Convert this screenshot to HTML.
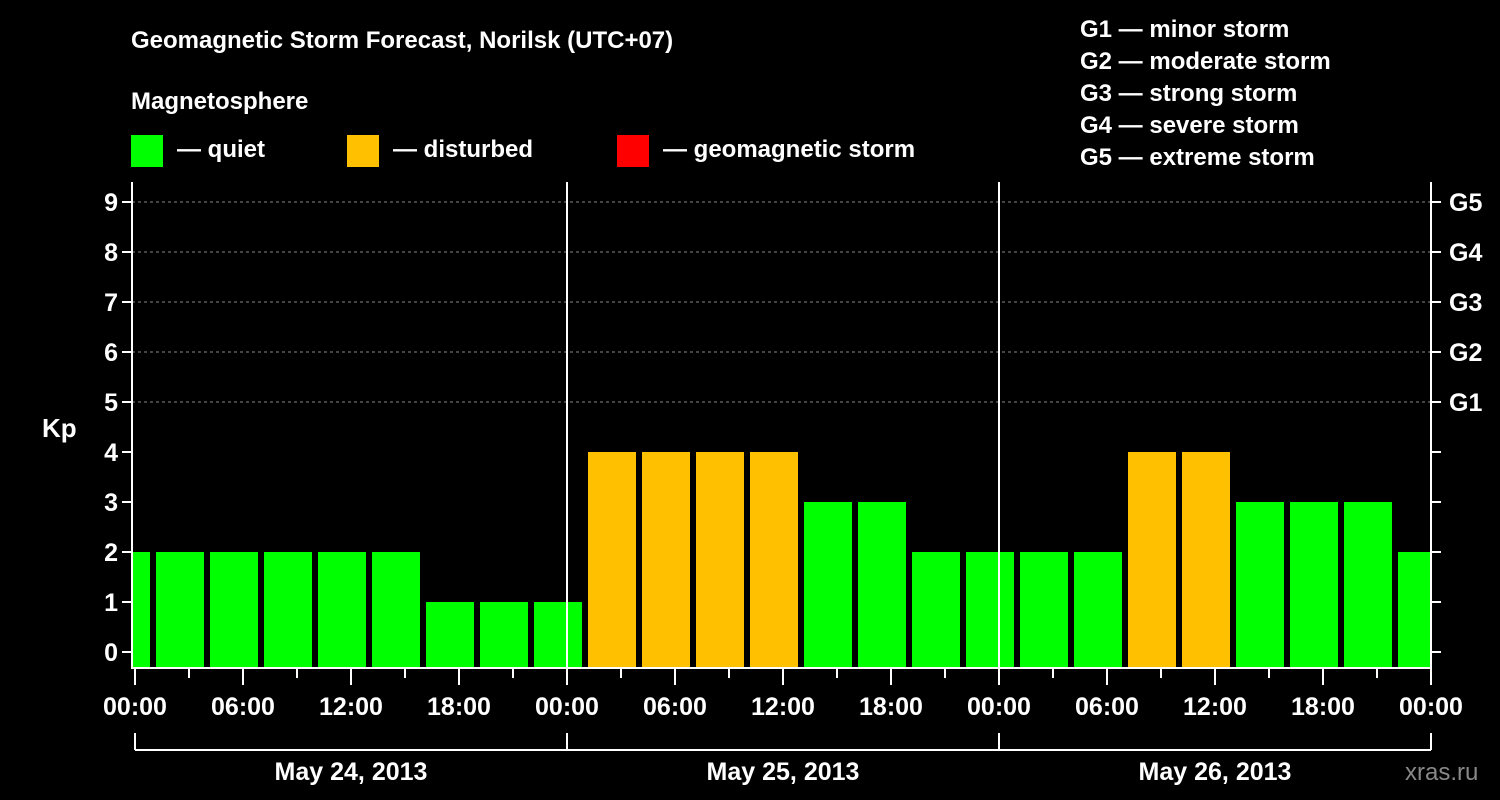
<!DOCTYPE html>
<html><head><meta charset="utf-8"><style>
body{margin:0;background:#000;}
svg{display:block;font-family:"Liberation Sans",Arial,sans-serif;font-weight:bold;}
</style></head><body>
<svg width="1500" height="800" viewBox="0 0 1500 800">
<rect width="1500" height="800" fill="#000"/>
<text x="131" y="48" fill="#fff" font-size="24">Geomagnetic Storm Forecast, Norilsk (UTC+07)</text>
<text x="131" y="109" fill="#fff" font-size="24">Magnetosphere</text>
<g><rect x="131" y="135" width="32" height="32" fill="#00ff00"/><text x="177" y="157" fill="#fff" font-size="24">— quiet</text></g>
<g><rect x="347" y="135" width="32" height="32" fill="#ffc000"/><text x="393" y="157" fill="#fff" font-size="24">— disturbed</text></g>
<g><rect x="617" y="135" width="32" height="32" fill="#ff0000"/><text x="663" y="157" fill="#fff" font-size="24">— geomagnetic storm</text></g>
<g fill="#fff" font-size="24">
<text x="1080" y="37">G1 — minor storm</text>
<text x="1080" y="69">G2 — moderate storm</text>
<text x="1080" y="101">G3 — strong storm</text>
<text x="1080" y="133">G4 — severe storm</text>
<text x="1080" y="165">G5 — extreme storm</text>
</g>
<text x="42" y="437" fill="#fff" font-size="26">Kp</text>
<text x="1405" y="780" fill="#888" font-size="24" font-weight="normal">xras.ru</text>
<g id="plot"></g>
</svg>
<script>
const kpValues=[2,2,2,2,2,2,1,1,1,4,4,4,4,3,3,2,2,2,2,4,4,3,3,3,2];
const firstBarHour=-2;
const barHours=3;
const dayLabels=["May 24, 2013","May 25, 2013","May 26, 2013"];
const timeTicks=["00:00","06:00","12:00","18:00"];
const gLabels=["G1","G2","G3","G4","G5"];
const yTicks=[0,1,2,3,4,5,6,7,8,9];

const NS="http://www.w3.org/2000/svg";
const plot=document.getElementById('plot');
const L=132,R=1431,T=182,B=668,x0=135;
const xs=h=>x0+h*18;
const ys=v=>652-v*50;
function mk(tag,attrs,parent){const e=document.createElementNS(NS,tag);for(const k in attrs)e.setAttribute(k,attrs[k]);(parent||plot).appendChild(e);return e;}
const clip=mk('clipPath',{id:'pc'});mk('rect',{x:L+1,y:T,width:R-L-1,height:B-T},clip);
// gridlines
yTicks.forEach(v=>{if(v>=5){const g=mk('line',{x1:L,x2:R,y1:ys(v),y2:ys(v),stroke:'#888','stroke-dasharray':'3,3','stroke-width':1});

}});
// bars
const bg=mk('g',{'clip-path':'url(#pc)'});
kpValues.forEach((v,i)=>{const h=firstBarHour+i*barHours;const c=v>=5?'#ff0000':(v>=4?'#ffc000':'#00ff00');
const r=mk('rect',{x:xs(h)+3,y:ys(v),width:48,height:B-ys(v),fill:c},bg);

});
// day separators
for(let d=1;d<dayLabels.length;d++){const l=mk('line',{x1:xs(d*24),x2:xs(d*24),y1:T,y2:B,stroke:'#fff','stroke-width':2});

}
// frame
const fr=mk('path',{d:`M${L} ${T} V${B} H${R} V${T}`,stroke:'#fff','stroke-width':2,fill:'none'});


// y ticks
yTicks.forEach(v=>{mk('line',{x1:L-10,x2:L,y1:ys(v),y2:ys(v),stroke:'#fff','stroke-width':2});
mk('line',{x1:R,x2:R+10,y1:ys(v),y2:ys(v),stroke:'#fff','stroke-width':2});
const t=mk('text',{x:L-14,y:ys(v)+9,fill:'#fff','font-size':25,'text-anchor':'end'});t.textContent=v;

});
gLabels.forEach((g,i)=>{const t=mk('text',{x:R+18,y:ys(5+i)+9,fill:'#fff','font-size':25});t.textContent=g;

});
// x ticks
const nDays=dayLabels.length;
for(let h=0;h<=nDays*24;h+=3){const major=h%6===0;mk('line',{x1:xs(h),x2:xs(h),y1:B,y2:B+(major?17:10),stroke:'#fff','stroke-width':2});
if(major){const t=mk('text',{x:xs(h),y:715,fill:'#fff','font-size':25,'text-anchor':'middle'});t.textContent=timeTicks[(h%24)/6];

}}
// day brackets
dayLabels.forEach((d,i)=>{const a=xs(i*24),b=xs((i+1)*24);
mk('line',{x1:a,x2:a,y1:733,y2:750,stroke:'#fff','stroke-width':2});
mk('line',{x1:a,x2:b,y1:750,y2:750,stroke:'#fff','stroke-width':2});
if(i===nDays-1)mk('line',{x1:b,x2:b,y1:733,y2:750,stroke:'#fff','stroke-width':2});
const t=mk('text',{x:(a+b)/2,y:780,fill:'#fff','font-size':25,'text-anchor':'middle'});t.textContent=d;

});
</script>
</body></html>
